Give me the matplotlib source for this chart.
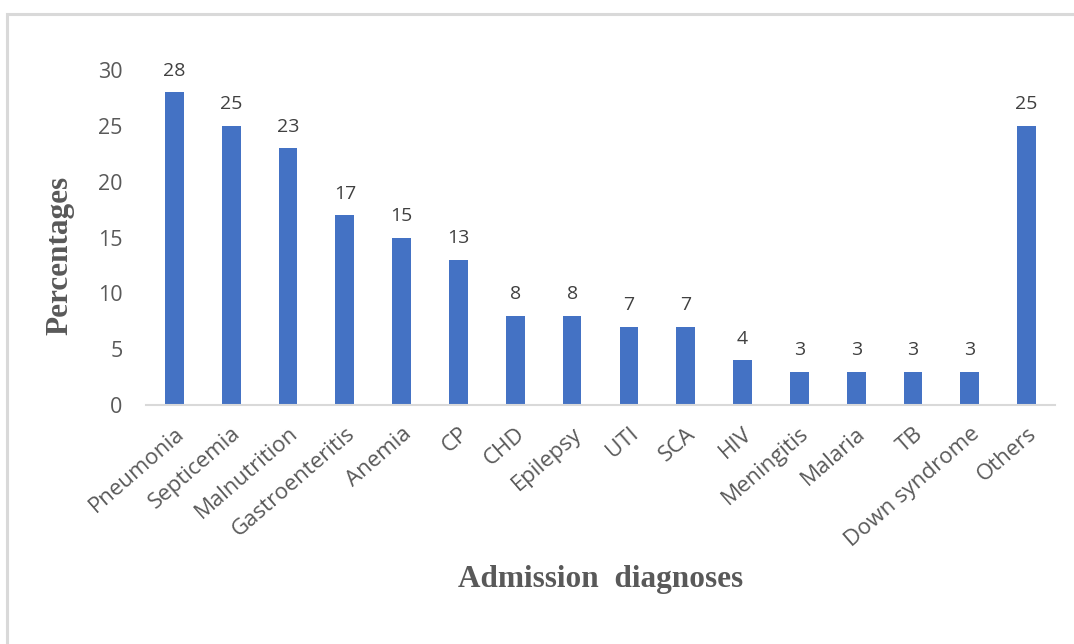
import matplotlib
matplotlib.use("Agg")
import matplotlib.pyplot as plt
from matplotlib.patches import Rectangle

categories = ["Pneumonia", "Septicemia", "Malnutrition", "Gastroenteritis", "Anemia",
              "CP", "CHD", "Epilepsy", "UTI", "SCA", "HIV", "Meningitis", "Malaria",
              "TB", "Down syndrome", "Others"]
percentages = [28, 25, 23, 17, 15, 13, 8, 8, 7, 7, 4, 3, 3, 3, 3, 25]
y_ticks = [0, 5, 10, 15, 20, 25, 30]

W, H = 1074, 644
fig = plt.figure(figsize=(W / 100, H / 100), dpi=100)
fig.patch.set_facecolor("white")

# outer chart-area frame
fig.patches.append(Rectangle((7 / W, -0.1), 1.2, 1 - 14 / H + 0.1,
                             transform=fig.transFigure, fill=False,
                             edgecolor="#d9d9d9", linewidth=2.2))

ax = fig.add_axes([146 / W, 1 - 405 / H, (1055 - 146) / W, (405 - 70) / H])
x = range(len(categories))
ax.bar(x, percentages, width=0.33, color="#4472c4")

ax.set_xlim(-0.5, len(categories) - 0.5)
ax.set_ylim(0, 30)
ax.set_yticks(y_ticks)
ax.set_yticklabels([str(t) for t in y_ticks], fontsize=15.5, color="#595959",
                   family="Open Sans")
ax.tick_params(axis="y", length=0, pad=17)
ax.set_xticks(list(x))
ax.set_xticklabels(categories, rotation=41, ha="right", rotation_mode="anchor",
                   fontsize=16, color="#595959", family="Open Sans")
ax.tick_params(axis="x", length=0, pad=13)

for s in ["top", "right", "left"]:
    ax.spines[s].set_visible(False)
ax.spines["bottom"].set_color("#d9d9d9")
ax.spines["bottom"].set_linewidth(1.5)

for xi, v in zip(x, percentages):
    ax.annotate(str(v), (xi, v), xytext=(0, 9), textcoords="offset points",
                ha="center", va="bottom", fontsize=14, color="#404040",
                family="Open Sans")

fig.text(60 / W, 1 - 255 / H, "Percentages", rotation=90, ha="center", va="center",
         fontsize=22.5, fontweight="bold", color="#595959", family="Liberation Serif")
fig.text(601 / W, 1 - 580 / H, "Admission  diagnoses", ha="center", va="center",
         fontsize=22.5, fontweight="bold", color="#595959", family="Liberation Serif")

fig.savefig("out.png", dpi=100, facecolor="white")
